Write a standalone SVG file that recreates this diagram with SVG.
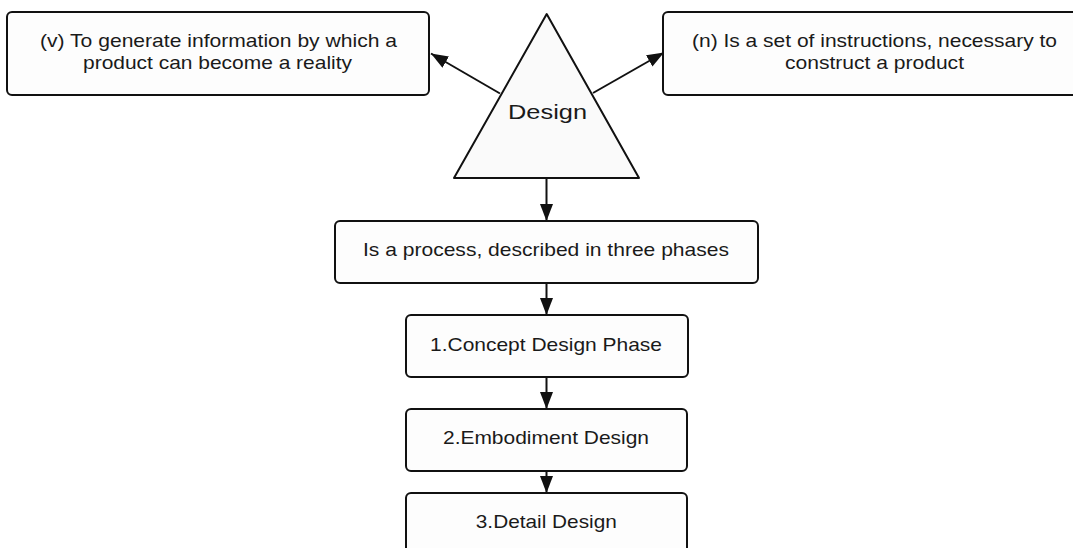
<svg xmlns="http://www.w3.org/2000/svg" width="1073" height="548" viewBox="0 0 1073 548">
  <defs>
    <style>
      .box { fill: #fdfdfd; stroke: #111; stroke-width: 2; }
      .tri { fill: #fafafa; stroke: #111; stroke-width: 2; stroke-linejoin: round; }
      .lbl { font-family: "Liberation Sans", Arial, sans-serif; font-size: 18.5px; fill: #1a1a1a; text-anchor: middle; }
      .big { font-size: 21px; }
      .edge { stroke: #111; stroke-width: 2; fill: none; marker-end: url(#head); }
    </style>
    <marker id="head" markerUnits="userSpaceOnUse" markerWidth="18" markerHeight="14" refX="17" refY="6.5" orient="auto">
      <path d="M0,0 L17,6.5 L0,13 Z" fill="#111"/>
    </marker>
  </defs>
  <rect width="1073" height="548" fill="#ffffff"/>

  <g id="connectors">
    <line class="edge" x1="500" y1="93.5" x2="431" y2="53.5"/>
    <line class="edge" x1="593" y1="93" x2="664" y2="52.5"/>
    <line class="edge" x1="546.5" y1="178" x2="546.5" y2="221"/>
    <line class="edge" x1="546.5" y1="283" x2="546.5" y2="315"/>
    <line class="edge" x1="546.5" y1="377" x2="546.5" y2="409"/>
    <line class="edge" x1="546.5" y1="471" x2="546.5" y2="493"/>
  </g>

  <g id="verb-box">
    <rect class="box" x="7" y="12" width="422" height="83" rx="5"/>
    <text class="lbl" x="218.5" y="46.5" textLength="357" lengthAdjust="spacingAndGlyphs">(v) To generate information by which a</text>
    <text class="lbl" x="217.5" y="69" textLength="269" lengthAdjust="spacingAndGlyphs">product can become a reality</text>
  </g>

  <g id="noun-box">
    <rect class="box" x="663" y="12" width="423" height="83" rx="5"/>
    <text class="lbl" x="874.5" y="46.5" textLength="365" lengthAdjust="spacingAndGlyphs">(n) Is a set of instructions, necessary to</text>
    <text class="lbl" x="874.5" y="69" textLength="179" lengthAdjust="spacingAndGlyphs">construct a product</text>
  </g>

  <g id="design">
    <path class="tri" d="M546.7,14 L639,178 L454,178 Z"/>
    <text class="lbl big" x="547.5" y="118.5" textLength="79" lengthAdjust="spacingAndGlyphs">Design</text>
  </g>

  <g id="process">
    <rect class="box" x="335" y="221" width="423" height="62" rx="5"/>
    <text class="lbl" x="546" y="256" textLength="366" lengthAdjust="spacingAndGlyphs">Is a process, described in three phases</text>
  </g>

  <g id="phase-1">
    <rect class="box" x="406" y="315" width="282" height="62" rx="5"/>
    <text class="lbl" x="546" y="350.5" textLength="232" lengthAdjust="spacingAndGlyphs">1.Concept Design Phase</text>
  </g>

  <g id="phase-2">
    <rect class="box" x="406" y="409" width="281" height="62" rx="5"/>
    <text class="lbl" x="546" y="443.5" textLength="206" lengthAdjust="spacingAndGlyphs">2.Embodiment Design</text>
  </g>

  <g id="phase-3">
    <rect class="box" x="406" y="493" width="281" height="70" rx="5"/>
    <text class="lbl" x="546.3" y="527.5" textLength="141" lengthAdjust="spacingAndGlyphs">3.Detail Design</text>
  </g>
</svg>
